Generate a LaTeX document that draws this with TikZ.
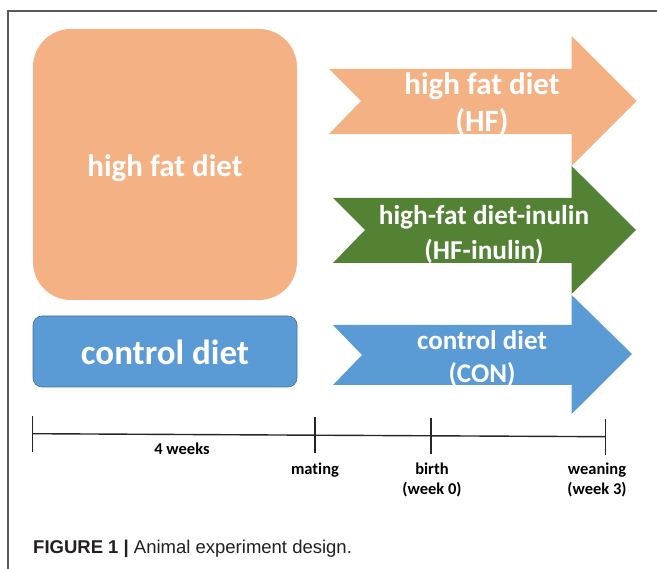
\documentclass[tikz,border=0pt]{standalone}
\usepackage{fontspec}
\setmainfont{Carlito}[Ligatures=NoCommon]
\newfontfamily\capfont{Liberation Sans}
\definecolor{hforange}{RGB}{244,177,131}
\definecolor{hfgreen}{RGB}{84,130,53}
\definecolor{conblue}{RGB}{91,155,213}
\definecolor{blueedge}{RGB}{65,113,156}
\definecolor{framegray}{RGB}{90,90,90}
\definecolor{captext}{RGB}{35,31,32}
\begin{document}
\begin{tikzpicture}[x=1pt,y=-1pt,
  whitetext/.style={text=white, align=center, inner sep=0pt},
  tltext/.style={text=black, align=center, inner sep=0pt, font=\bfseries\fontsize{16.5}{20}\selectfont},
  tlline/.style={draw=black!85, line width=1.4pt},
  framestroke/.style={draw=framegray, line width=1.1pt}]
\useasboundingbox (0,0) rectangle (657,569);
% frame
\draw[framestroke] (657,11) -- (8,11) -- (8,569);
% left boxes
\node[fill=hforange, rounded corners=38pt, minimum width=264pt, minimum height=271pt,
      inner sep=0pt] (hfbox) at (165,164.5) {};
\node[whitetext, font=\bfseries\fontsize{31}{37}\selectfont] (hfboxlabel) at (165,168) {high fat diet};
\node[fill=conblue, draw=blueedge, line width=0.6pt, rounded corners=9pt, minimum width=264pt,
      minimum height=71pt, inner sep=0pt] (conbox) at (165,351.5) {};
\node[whitetext, font=\bfseries\fontsize{35}{40}\selectfont] (conboxlabel) at (165,352.5) {control diet};
% arrows
\fill[hforange] (329,69) -- (571.7,69) -- (571.7,36) -- (636.7,101) -- (571.7,166)
  -- (571.7,134) -- (329,134) -- (361,101) -- cycle;
\node[whitetext, font=\bfseries\fontsize{31}{37}\selectfont] (hflabel) at (482,104) {high fat diet\\(HF)};
\fill[hfgreen] (333,198) -- (571.7,198) -- (571.7,166) -- (636,230) -- (571.7,294)
  -- (571.7,263) -- (333,263) -- (365,230) -- cycle;
\node[whitetext, font=\bfseries\fontsize{27.3}{35}\selectfont] (inulinlabel) at (484,234.5) {high-fat diet-inulin\\(HF-inulin)};
\fill[conblue] (333,325) -- (571.7,325) -- (571.7,295) -- (632,354) -- (571.7,414)
  -- (571.7,385) -- (333,385) -- (362,355) -- cycle;
\node[whitetext, font=\bfseries\fontsize{27}{33}\selectfont] (conlabel) at (482,358.5) {control diet\\(CON)};
% timeline
\coordinate (t0) at (32.7,433.7);
\coordinate (t1) at (315,435.2);
\coordinate (t2) at (430.8,435.8);
\coordinate (t3) at (605.7,436.7);
\draw[tlline] (t0) -- (t1) -- (t2) -- (t3);
\foreach \t in {t0,t1,t2,t3}{
  \draw[tlline] ([yshift=18pt]\t) -- ([yshift=-18pt]\t);
}
\node[tltext] (weeks) at (182,449) {4 weeks};
\node[tltext] (mating) at (315,470) {mating};
\node[tltext] (birth) at (432,480) {birth\\(week 0)};
\node[tltext] (weaning) at (597,480) {weaning\\(week 3)};
% caption
\node[anchor=base west, inner sep=0pt, text=captext, font=\capfont\fontsize{18.5}{22}\selectfont]
  (caption) at (33,554) {\textbf{FIGURE 1 |} Animal experiment design.};
\end{tikzpicture}
\end{document}
